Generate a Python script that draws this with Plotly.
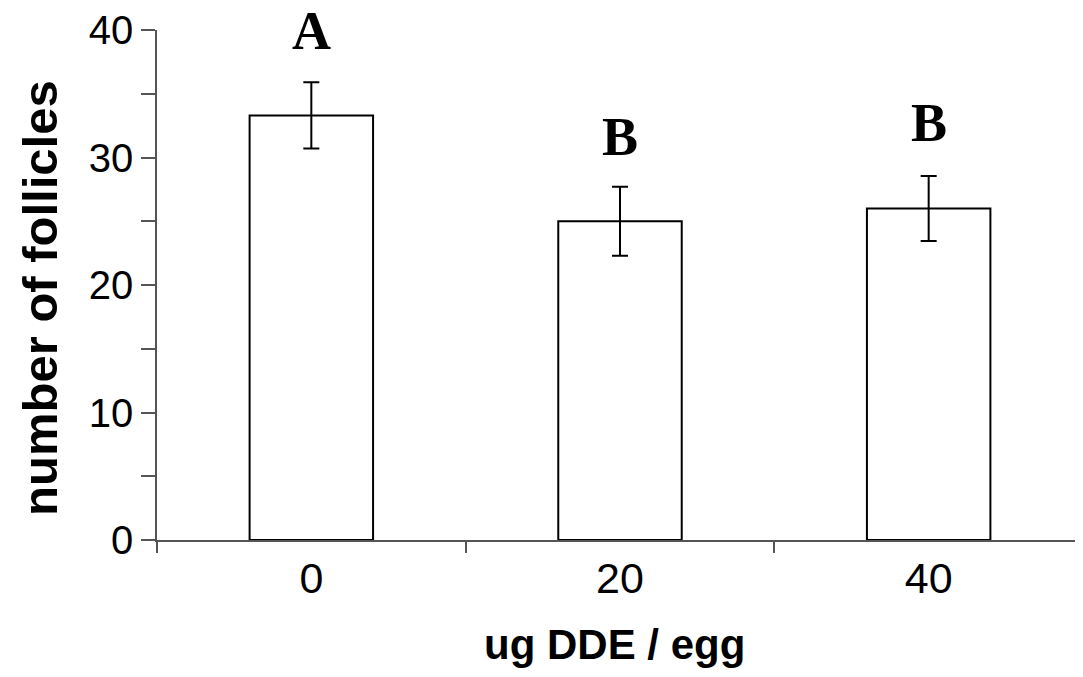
import plotly.graph_objects as go

categories = ["0", "20", "40"]
means = [33.3, 25.0, 26.0]
errors = [2.6, 2.7, 2.55]
letters = ["A", "B", "B"]
letter_y = [39.9, 31.6, 32.7]
y_ticks = [0, 10, 20, 30, 40]

fig = go.Figure()
fig.add_trace(go.Bar(
    x=categories, y=means,
    width=0.4,
    marker=dict(color="white", line=dict(color="black", width=2)),
    error_y=dict(type="data", array=errors, color="black", thickness=2, width=8),
    showlegend=False,
))

for i, (t, yy) in enumerate(zip(letters, letter_y)):
    fig.add_annotation(x=i, y=yy, text="<b>%s</b>" % t, showarrow=False,
                       xref="x", yref="y", yanchor="middle",
                       font=dict(family="Liberation Serif", size=54, color="black"))

fig.add_annotation(text="<b>number of follicles</b>", xref="paper", yref="paper",
                   x=-0.1264, y=0.4746, textangle=-90, showarrow=False,
                   xanchor="center", yanchor="middle",
                   font=dict(family="Liberation Sans", size=49, color="black"))
fig.add_annotation(text="<b>ug DDE / egg</b>", xref="paper", yref="paper",
                   x=0.4946, y=-0.205, showarrow=False,
                   xanchor="center", yanchor="middle",
                   font=dict(family="Liberation Sans", size=42, color="black"))

fig.update_layout(
    width=1075, height=669,
    margin=dict(l=149, r=0, t=19, b=137),
    plot_bgcolor="white", paper_bgcolor="white",
    xaxis=dict(
        type="category", range=[-0.5, 2.5],
        showline=True, linecolor="#555555", linewidth=1.5,
        ticks="outside", ticklen=11, tickcolor="#555555", tickwidth=1.5,
        tickson="boundaries", showgrid=False,
        tickfont=dict(family="Liberation Sans", size=43, color="black"),
    ),
    yaxis=dict(
        range=[0, 40], tickvals=y_ticks,
        showline=True, linecolor="#555555", linewidth=1.5,
        ticks="outside", ticklen=14, tickcolor="#555555", tickwidth=1.5,
        minor=dict(ticks="outside", ticklen=14, dtick=5, tickcolor="#555555", tickwidth=1.5, showgrid=False),
        showgrid=False, zeroline=False, ticklabeloverflow="allow",
        tickfont=dict(family="Liberation Sans", size=40, color="black"),
    ),
)

fig.write_html("out.html")
